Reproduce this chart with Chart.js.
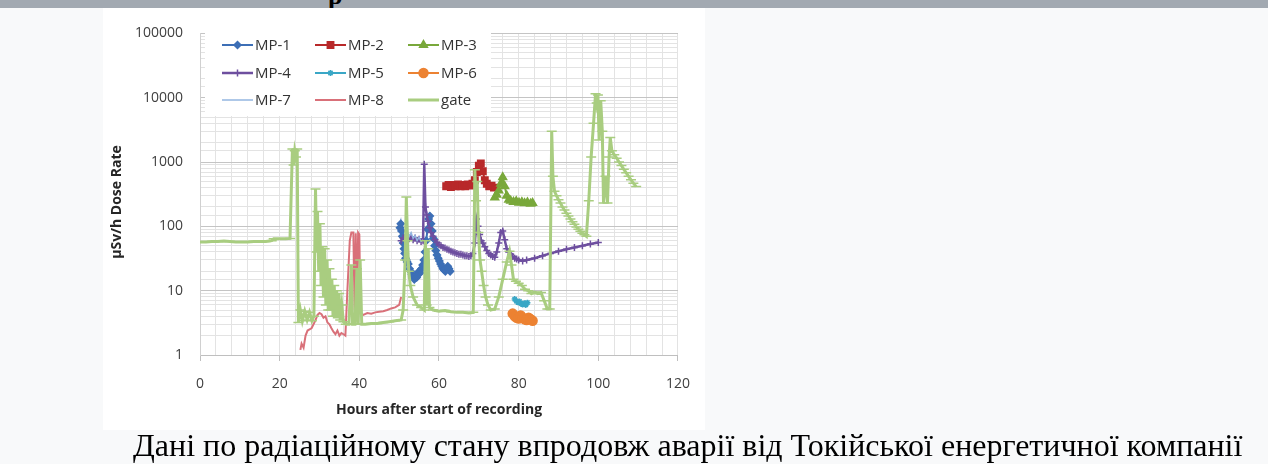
<!DOCTYPE html>
<html lang="uk">
<head>
<meta charset="UTF-8">
<title>Dose rate</title>
<script src="https://cdn.jsdelivr.net/npm/chart.js@4"></script>
<style>
  html, body { margin: 0; padding: 0; }
  body { width: 1268px; height: 464px; background: #f8f9fa; position: relative; overflow: hidden; }
  .topbar { position: absolute; left: 0; top: 0; width: 1268px; height: 8px; background: #a2a9b1; overflow: hidden; }
  .topbar span { position: absolute; left: 328px; top: -19px; font: bold 26px "Liberation Serif", serif; color: #000; }
  .chart-box { position: absolute; left: 103px; top: 8px; width: 602px; height: 422px; background: #fff; }
  .caption { position: absolute; left: 133px; top: 429px; font: 32px/32px "Liberation Serif", serif; color: #000; white-space: nowrap; }
</style>
</head>
<body>
  <div class="topbar"><span>р</span></div>
  <div class="chart-box"><canvas id="doseChart"></canvas></div>
  <div class="caption">Дані по радіаційному стану впродовж аварії від Токійської енергетичної компанії</div>

<script>
// series names shown in the legend
const seriesNames = ['MP-1', 'MP-2', 'MP-3', 'MP-4', 'MP-5', 'MP-6', 'MP-7', 'MP-8', 'gate'];

// [hours, µSv/h]
const mp1 = [[50.2,95],[50.4,110],[50.6,85],[50.8,70],[51,55],[51.2,45],[51.4,38],[51.6,32],[51.8,30],[52,28],
  [52.3,26],[52.6,22],[52.9,20],[53.2,18],[53.5,17],[53.8,15],[54.1,17],[54.4,16],[54.7,18],[55,20],[55.3,19],
  [55.6,22],[55.9,25],[56.2,30],[56.5,40],[56.8,60],[57.1,90],[57.4,130],[57.7,145],[58,110],[58.3,85],[58.6,65],
  [58.9,50],[59.2,42],[59.5,36],[59.8,32],[60.1,29],[60.4,26],[60.7,24],[61,22],[61.3,21],[61.6,20],[61.9,22],
  [62.2,24],[62.5,22],[62.8,20]];
const mp2 = [[61.8,420],[62.4,440],[63,410],[63.6,440],[64.2,420],[64.8,450],[65.4,420],[66,440],[66.6,420],
  [67.2,450],[67.8,430],[68.4,460],[69,520],[69.5,700],[70,880],[70.5,950],[71,720],[71.5,520],[72,460],[72.6,420],
  [73.2,430],[73.8,400]];
const mp3 = [[74,280],[74.5,310],[75,360],[75.5,460],[76,580],[76.5,420],[77,300],[77.5,260],[78,250],[78.7,240],
  [79.4,245],[80.1,232],[80.8,238],[81.5,228],[82.2,235],[83,225],[83.5,230]];
const mp4 = [[50.5,60],[51,66],[51.5,62],[52,70],[52.5,64],[53,68],[53.5,62],[54,66],[54.5,60],[55,63],[55.5,58],
  [56,60],[56.3,920],[56.6,200],[56.9,150],[57.2,120],[57.6,95],[58,80],[58.5,70],[59,62],[59.5,56],[60,52],
  [60.5,50],[61,47],[61.5,46],[62,44],[62.5,43],[63,41],[63.5,40],[64,39],[64.5,38],[65,37],[65.5,37],[66,36],
  [66.5,35],[67,35],[67.5,34],[68,35],[68.5,38],[69,55],[69.4,130],[69.8,100],[70.2,75],[70.6,60],[71,55],[71.5,48],
  [72,42],[72.5,38],[73,36],[73.5,34],[74,33],[74.5,40],[75,55],[75.5,80],[76,85],[76.5,62],[77,45],[77.5,40],
  [78,37],[78.5,34],[79,32],[79.5,31],[80,30],[81,29],[82,30],[84,32],[86,35],[88,38],[90,41],[92,44],[94,47],
  [96,50],[98,53],[100,56]];
const mp5 = [[79,7.4],[79.4,6.9],[79.8,6.6],[80.2,6.8],[80.6,6.3],[81,6.1],[81.4,6.4],[81.8,6.0],[82.2,6.5]];
const mp6 = [[78.5,4.4],[79,4.0],[79.5,3.8],[80,3.7],[80.5,4.1],[81,3.8],[81.5,3.6],[82,3.5],[82.5,3.8],[83,3.6],[83.5,3.4]];
const mp7 = [[51.5,75],[52,85],[52.5,70],[53,80],[53.5,65],[54,72],[54.5,60],[55,68],[55.5,58],[56,62]];
const mp8 = [[25.2,1.2],[25.5,1.5],[26,1.3],[26.5,2.0],[27,2.4],[27.5,2.5],[28,2.6],[28.5,3.0],[29,3.5],[29.5,4.2],
  [30,4.5],[30.5,4.3],[31,3.8],[31.5,4.0],[32,3.2],[32.5,3.0],[33,2.6],[33.5,2.3],[34,2.1],[34.5,2.4],[35,2.0],
  [35.5,2.2],[36,2.1],[36.5,2.0],[37,10],[37.6,60],[38,80],[38.5,80],[38.8,5],[39.1,78],[39.4,6],[39.7,80],
  [40,75],[40.3,4.5],[41,4.2],[42,4.5],[43,4.4],[44,4.6],[45,4.7],[46,4.8],[47,5.0],[48,5.3],[49,5.5],[50,6.0],[50.5,8.0]];
const gate = [[0,57],[1.5,57],[3,58],[4.5,58],[6,59],[7.5,58],[9,57],[10.5,57],[12,57],[13.5,58],[15,58],[16.5,58],
  [18,60],[18.5,64],[20,64],[21.5,64],[22.6,65],
  [23.2,1600],[23.5,900],[23.8,1500],[24.1,1200],[24.4,1600],[24.7,3.2],[25.2,5],[25.7,3.4],[26.3,4.8],[26.9,3.5],
  [27.5,4.6],[28.1,3.4],[28.6,4],
  [29,380],[29.3,40],[29.5,170],[29.8,20],[30.1,110],[30.4,12],[30.7,48],[31,8],[31.3,45],[31.6,6],[31.9,30],
  [32.2,5],[32.5,22],[32.8,5],[33.1,15],[33.4,4],[33.7,12],[34,4],[34.3,10],[34.6,3.8],[34.9,9],[35.2,3.5],
  [35.6,6],[36,3.3],[36.6,3],
  [37.4,3],[38,25],[38.3,3],[38.9,3],[39.4,22],[39.7,3],[40.2,30],[40.6,3],[41.5,3],[43,3.1],[44.5,3.1],[46,3.2],
  [47.5,3.3],[49,3.4],[50.5,3.5],
  [51,5],[51.5,30],[51.8,285],[52.1,60],[52.4,20],[52.8,12],[53.5,8],[54.5,6],[55.5,5.5],[56.3,5],[56.6,60],
  [56.9,6],[57.3,45],[57.6,5.5],[58.5,5],[60,4.8],[61.5,4.9],[63,4.7],[64.5,4.6],[66,4.6],[67.5,4.5],[68.6,4.6],
  [69,760],[69.3,250],[69.6,500],[69.9,80],[70.3,30],[70.7,20],[71.2,12],[71.7,8],[72.3,6],[73,5],[74,5.2],
  [75,8],[76,15],[77,28],[77.7,41],[78.2,25],[78.7,15],[79.3,14],[80,13],[80.8,12],[81.6,10.5],[82.4,10],
  [83.2,9],[84,9.5],[84.8,9],[85.6,9.4],[86.4,7],[87.2,5.2],[87.8,5.2],
  [88.3,3000],[88.6,600],[89,350],[89.5,300],[90,260],[90.5,230],[91,200],[91.5,180],[92,160],[92.5,145],
  [93,130],[93.5,118],[94,108],[94.5,98],[95,90],[95.5,84],[96,78],[96.5,74],[97,70],
  [97.6,250],[98.2,1200],[98.8,4000],[99.3,11500],[99.6,8300],[99.9,11000],[100.2,2200],[100.6,9000],
  [101,3000],[101.3,230],[101.8,600],[102.3,230],[102.7,1200],[103,2400],[103.4,1500],[104,1300],[104.6,1150],
  [105.2,1000],[105.8,880],[106.4,770],[107,680],[107.6,600],[108.2,530],[108.8,470],[109.5,415]];

const seriesData = [mp1, mp2, mp3, mp4, mp5, mp6, mp7, mp8, gate];

// look of each series (Excel 2007 palette)
const seriesColors = ['#3d6fb6', '#b8292a', '#79a83b', '#6e4f9f', '#3aa7c6', '#ec8232', '#93b6e0', '#d97079', '#a9cd80'];
const markerStyles = ['rectRot', 'rect', 'triangle', 'cross', 'star', 'circle', false, false, 'line'];
const markerSizes  = [3.5, 4.5, 4.5, 3.5, 3, 4.5, 0, 0, 5];
const lineWidths   = [2, 2, 2, 2.5, 2, 2, 1.5, 2, 3];

const xTitle = 'Hours after start of recording';
const yTitle = 'µSv/h Dose Rate';

function isPow10(v) {
  const l = Math.log10(v);
  return Math.abs(l - Math.round(l)) < 1e-9;
}

const datasets = seriesData.map((pts, i) => ({
  label: seriesNames[i],
  data: pts.map(p => ({ x: p[0], y: p[1] })),
  showLine: true,
  borderColor: seriesColors[i],
  backgroundColor: seriesColors[i],
  borderWidth: lineWidths[i],
  pointStyle: markerStyles[i],
  pointRadius: markerSizes[i],
  pointBorderColor: seriesColors[i],
  pointBackgroundColor: seriesColors[i],
  pointBorderWidth: 1.5,
  order: 10 - i
}));

// legend in three columns plus rotated y title
const overlay = {
  id: 'overlay',
  afterDatasetsDraw(chart) {
    const ctx = chart.ctx;
    ctx.save();
    ctx.fillStyle = '#ffffff';
    ctx.fillRect(102, 18, 286, 90);
    const colX = [119, 212, 305];
    const rowY = [37, 65, 92];
    ctx.font = '15px "Open Sans", sans-serif';
    ctx.textBaseline = 'middle';
    ctx.textAlign = 'left';
    seriesNames.forEach((name, i) => {
      const x = colX[i % 3], y = rowY[Math.floor(i / 3)];
      ctx.strokeStyle = seriesColors[i];
      ctx.fillStyle = seriesColors[i];
      ctx.lineWidth = lineWidths[i];
      ctx.beginPath();
      ctx.moveTo(x, y);
      ctx.lineTo(x + 31, y);
      ctx.stroke();
      if (markerStyles[i] && markerStyles[i] !== 'line') {
        ctx.lineWidth = 1.5;
        Chart.helpers.drawPoint(ctx, { pointStyle: markerStyles[i], radius: markerSizes[i], rotation: 0, borderWidth: 1.5 }, x + 15.5, y);
      }
      ctx.fillStyle = '#333333';
      ctx.fillText(name, x + 33, y + 1);
    });
    ctx.translate(14, 194);
    ctx.rotate(-Math.PI / 2);
    ctx.font = 'bold 14px "Open Sans", sans-serif';
    ctx.fillStyle = '#262626';
    ctx.textAlign = 'center';
    ctx.fillText(yTitle, 0, 0);
    ctx.restore();
  }
};

Chart.defaults.font.family = '"Open Sans", sans-serif';
Chart.defaults.color = '#404040';

new Chart(document.getElementById('doseChart'), {
  type: 'scatter',
  data: { datasets },
  options: {
    responsive: true,
    maintainAspectRatio: false,
    animation: false,
    layout: { padding: { top: 13, right: 23, left: 0, bottom: 0 } },
    plugins: { legend: { display: false }, tooltip: { enabled: false } },
    scales: {
      x: {
        type: 'linear',
        min: 0,
        max: 120,
        afterFit: s => { s.height = 75; },
        ticks: {
          stepSize: 4,
          autoSkip: false,
          maxRotation: 0,
          padding: 15,
          font: { size: 14 },
          callback: v => (v % 20 === 0 ? v : '')
        },
        grid: {
          color: '#e3e3e3',
          drawTicks: true,
          tickLength: 6,
          tickColor: c => (c.tick && c.tick.value % 20 === 0 ? '#bfbfbf' : 'rgba(0,0,0,0)')
        },
        border: { color: '#bfbfbf' },
        title: {
          display: true,
          text: xTitle,
          color: '#262626',
          font: { size: 14, weight: 'bold' },
          padding: { top: 0, bottom: 12 }
        }
      },
      y: {
        type: 'logarithmic',
        min: 1,
        max: 100000,
        afterFit: s => { s.width = 97; },
        ticks: {
          autoSkip: false,
          padding: 17,
          font: { size: 14 },
          callback: v => (isPow10(v) ? String(Math.round(v)) : '')
        },
        grid: {
          drawTicks: false,
          color: c => (c.tick && isPow10(c.tick.value) ? '#c4c4c4' : '#e3e3e3')
        },
        border: { color: '#d0d0d0' }
      }
    }
  },
  plugins: [overlay]
});
</script>
</body>
</html>
